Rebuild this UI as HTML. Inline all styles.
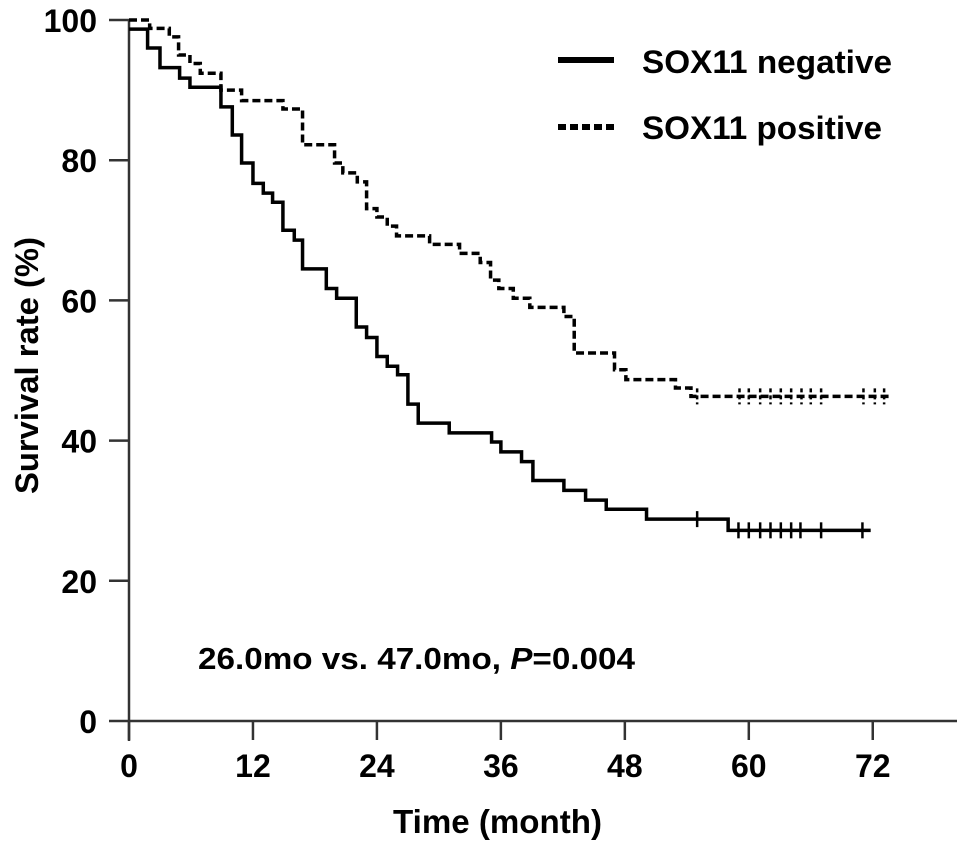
<!DOCTYPE html>
<html><head><meta charset="utf-8"><style>
html,body{margin:0;padding:0;background:#fff;}
svg{display:block;font-family:"Liberation Sans",Arial,sans-serif;font-weight:bold;}
</style></head><body>
<svg id="chart" width="969" height="853" viewBox="0 0 969 853">
<g id="axes"></g>
<g id="series"></g>
<g>
  <line x1="558" y1="60" x2="614" y2="60" stroke="#000" stroke-width="6"/>
  <text x="642" y="73" font-size="32" textLength="250" lengthAdjust="spacingAndGlyphs">SOX11 negative</text>
  <line x1="558" y1="127" x2="614" y2="127" stroke="#000" stroke-width="6" stroke-dasharray="8,4"/>
  <text x="642" y="139" font-size="32" textLength="240" lengthAdjust="spacingAndGlyphs">SOX11 positive</text>
</g>
<text x="198" y="669" font-size="31" textLength="437" lengthAdjust="spacingAndGlyphs">26.0mo vs. 47.0mo, <tspan font-style="italic">P</tspan>=0.004</text>
<text x="393" y="833" font-size="33" textLength="209" lengthAdjust="spacingAndGlyphs">Time (month)</text>
<text transform="translate(38,366) rotate(-90)" x="-128" y="0" font-size="32" textLength="257" lengthAdjust="spacingAndGlyphs">Survival rate (%)</text>
</svg>
<script>
const xTicks=[0,12,24,36,48,60,72];
const yTicks=[0,20,40,60,80,100];
const negTimes=[0,1.8,3.0,4.9,5.9,8.9,10.0,10.9,12.0,13.0,13.9,14.9,16.0,16.8,19.1,20.1,22.0,23.0,24.0,25.0,26.0,27.0,28.0,31.0,35.1,36.0,38.0,39.1,42.1,44.2,46.2,50.1,58.0];
const negSurv=[98.7,96.0,93.2,91.7,90.4,87.6,83.6,79.6,76.7,75.3,74.0,70.0,68.6,64.5,61.7,60.3,56.2,54.7,52.0,50.6,49.4,45.2,42.5,41.1,39.8,38.4,37.0,34.3,32.9,31.5,30.2,28.8,27.2];
const negEnd=71.8;
const negCensor=[55.0,59.0,60.0,61.1,62.1,63.1,64.1,65.0,67.0,71.0];
const posTimes=[0,2.0,3.9,4.8,5.9,6.9,8.9,10.9,14.9,16.8,19.9,20.7,22.1,23.0,24.0,25.0,25.9,29.1,32.0,34.0,35.0,35.8,37.2,38.8,42.1,43.1,47.0,48.1,52.9,54.4];
const posSurv=[100,98.8,97.6,95.0,93.8,92.4,90.0,88.5,87.3,82.2,79.6,78.2,76.9,73.1,71.9,70.6,69.2,68.0,66.7,65.4,62.9,61.7,60.3,59.0,57.7,52.5,50.1,48.7,47.5,46.3];
const posEnd=73.7;
const posCensor=[55.0,59.1,60.0,61.1,62.1,63.1,64.1,65.1,66.0,67.0,71.1,72.2,73.1];

const X0=129, PXM=10.33, Y0=721, PXP=7.01;
const sx=m=>X0+m*PXM, sy=v=>Y0-v*PXP;
const NS='http://www.w3.org/2000/svg';
function mk(tag,attrs,parent){const e=document.createElementNS(NS,tag);for(const k in attrs)e.setAttribute(k,attrs[k]);parent.appendChild(e);return e;}
const axes=document.getElementById('axes');
let a=mk('line',{x1:X0,y1:Y0,x2:957,y2:Y0,stroke:'#333','stroke-width':2.5},axes);


a=mk('line',{x1:X0,y1:sy(100),x2:X0,y2:Y0+20,stroke:'#333','stroke-width':2.5},axes);


xTicks.forEach(t=>{
  const l=mk('line',{x1:sx(t),y1:Y0,x2:sx(t),y2:Y0+19,stroke:'#333','stroke-width':2.5},axes);
  
  
  const tx=mk('text',{x:sx(t),y:777,'font-size':32,'text-anchor':'middle'},axes);
  tx.textContent=t;
  
  
});
yTicks.forEach(t=>{
  const l=mk('line',{x1:X0-20,y1:sy(t),x2:X0,y2:sy(t),stroke:'#333','stroke-width':2.5},axes);
  
  
  const tx=mk('text',{x:97,y:sy(t)+12,'font-size':32,'text-anchor':'end'},axes);
  tx.textContent=t;
  
  
});
const series=document.getElementById('series');
function stepPath(ts,vs,end){
  let d='M'+sx(ts[0])+','+sy(vs[0]);
  for(let i=1;i<ts.length;i++){d+=' H'+sx(ts[i])+' V'+sy(vs[i]);}
  d+=' H'+sx(end);return d;
}
function levelAt(ts,vs,t){let v=vs[0];for(let i=0;i<ts.length;i++){if(ts[i]<=t)v=vs[i];}return v;}
let p=mk('path',{d:stepPath(negTimes,negSurv,negEnd),fill:'none',stroke:'#000','stroke-width':3.5},series);


p=mk('path',{d:stepPath(posTimes,posSurv,posEnd),fill:'none',stroke:'#000','stroke-width':3.5,'stroke-dasharray':'8,4'},series);


negCensor.forEach(t=>{
  const y=sy(levelAt(negTimes,negSurv,t));
  const c=mk('line',{x1:sx(t),y1:y-8,x2:sx(t),y2:y+8,stroke:'#000','stroke-width':2.5},series);
  
  
});
posCensor.forEach(t=>{
  const y=sy(levelAt(posTimes,posSurv,t));
  const c=mk('line',{x1:sx(t),y1:y-8,x2:sx(t),y2:y+8,stroke:'#000','stroke-width':2.5,'stroke-dasharray':'4,3'},series);
  
  
});
</script>
</body></html>
